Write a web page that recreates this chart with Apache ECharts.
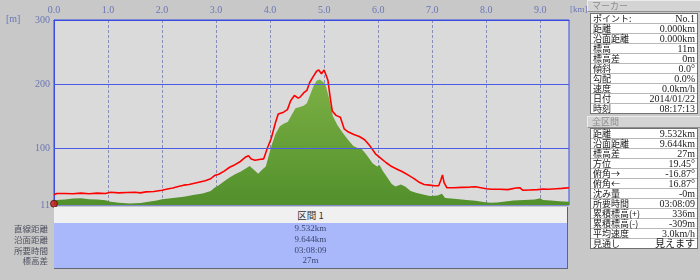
<!DOCTYPE html>
<html><head><meta charset="utf-8">
<script src="https://cdn.jsdelivr.net/npm/echarts@6/dist/echarts.min.js"></script>
<style>
html,body{margin:0;padding:0;background:#c8c8c8;}
#wrap{position:relative;width:700px;height:280px;overflow:hidden;background:#c8c8c8;}
#chart{position:absolute;left:0;top:0;width:700px;height:280px;}
.hdr{position:absolute;left:587px;width:109px;height:10px;background:#d4d4d4;border-top:1px solid #ececec;border-left:1px solid #ececec;border-right:1px solid #909090;border-bottom:1px solid #909090;color:#8c8c8c;font:9px/10px "Noto Sans CJK JP";padding-left:4px;box-sizing:content-box;}
.box{position:absolute;left:590px;width:106px;background:#fff;border:1px solid #707070;}
.row{height:9px;border-bottom:1px solid #b8b8b8;position:relative;font:9px/9px "Noto Sans CJK JP";color:#202020;}
.row:last-child{border-bottom:none;}
.row .k{position:absolute;left:2px;top:0;white-space:nowrap;}
.row .v{position:absolute;right:2px;top:0;white-space:nowrap;font-family:"Liberation Serif","Noto Sans CJK JP";font-size:10px;}
#sect{position:absolute;left:54px;top:207px;width:513px;height:16px;background:#f0f0f0;border-right:1px solid #606060;font:9.5px/16px "Noto Sans CJK JP";color:#303030;text-align:center;}
#tbl{position:absolute;left:54px;top:223px;width:513px;height:45px;background:#a8b8fa;border-right:1px solid #606878;border-bottom:1px solid #606878;}
.tv{position:absolute;left:0;width:513px;text-align:center;font:9px/11px "Liberation Serif";color:#3c4670;}
.tl{position:absolute;right:652px;white-space:nowrap;font:8.5px/11px "Noto Sans CJK JP";color:#505060;text-align:right;}
</style></head>
<body><div id="wrap"><div id="chart"></div>
<div id="sect">区間 1</div>
<div id="tbl"></div>
<div id="labels"></div>
<div id="panel"></div>
</div>
<script>
// ---- data ----
const redKm = [0,0.05,0.2,0.35,0.5,0.65,0.8,0.95,1.05,1.2,1.35,1.5,1.6,1.7,1.85,2.0,2.1,2.2,2.3,2.4,2.5,2.6,2.7,2.8,2.9,2.97,3.05,3.15,3.25,3.35,3.45,3.55,3.6,3.65,3.72,3.8,3.88,3.95,4.02,4.1,4.15,4.25,4.32,4.38,4.45,4.48,4.52,4.56,4.62,4.68,4.73,4.8,4.86,4.9,4.95,5.0,5.03,5.07,5.11,5.15,5.22,5.3,5.37,5.45,5.55,5.65,5.75,5.85,5.95,6.05,6.15,6.25,6.35,6.45,6.55,6.65,6.75,6.85,6.95,7.05,7.12,7.16,7.19,7.22,7.27,7.4,7.55,7.7,7.8,7.9,8.0,8.1,8.25,8.4,8.55,8.62,8.68,8.8,8.95,9.05,9.15,9.3,9.4,9.532];
const redElev = [27,29,29,28.5,29.5,28.5,29.5,29,31,30,30.5,31,30,31.5,32,34,36,37.5,40,42,43,45,47,49,52,57,59,64,70,74,79,86,88,83,81,82,83,100,115,140,153,156,160,174,182,184,178,180,186,190,202,212,220,222,216,222,225,206,180,158,151,148,130,125,121,118,113,103,91,84,77,71,67,63,58,53,47,43,42,41,41,50,58,46,38,38,38.5,39,39.5,38,36.5,35.5,35.5,35,37.5,38,34,34.5,35,36,35.5,36.5,37,38];
const greenKm = [0,0.05,0.2,0.35,0.5,0.65,0.8,0.95,1.05,1.2,1.4,1.6,1.75,1.9,2.0,2.2,2.4,2.6,2.75,2.9,2.97,3.05,3.15,3.25,3.35,3.45,3.55,3.62,3.7,3.78,3.85,3.92,3.98,4.03,4.1,4.18,4.25,4.33,4.4,4.47,4.55,4.62,4.68,4.75,4.8,4.86,4.92,4.97,5.02,5.06,5.1,5.16,5.25,5.35,5.45,5.54,5.62,5.7,5.78,5.9,5.98,6.03,6.08,6.16,6.25,6.32,6.42,6.5,6.6,6.7,6.85,6.96,7.1,7.18,7.24,7.35,7.5,7.64,7.8,7.95,8.07,8.2,8.35,8.5,8.7,8.9,9.0,9.05,9.2,9.35,9.532];
const greenElev = [17,19,19.5,21,21.5,20,19.5,18.5,16,14.5,13.5,14,16,18,20,22,24,27,29,33,38,42,48,54,59,63,68,72,66,60,66,71,90,105,122,134,138,141,152,162,164,166,170,185,196,205,207,204,200,188,175,150,135,123,112,103,100,98,90,76,71,73,65,55,44,40,43,40,33,30,27,25,26,28.5,22,21,20,19,17.5,15.5,14.5,15,16.5,18,19,19.5,21.5,19,18,17,16];
const xTicks = [0,1,2,3,4,5,6,7,8,9];
const yTicks = [11,100,200,300];
const gridLinesY = [100,200];
const sectionLabel = ['直線距離','沿面距離','所要時間','標高差'];
const sectionValue = ['9.532km','9.644km','03:08:09','27m'];
const markerKeys = ['ポイント:','距離','沿面距離','標高','標高差','傾斜','勾配','速度','日付','時刻'];
const markerVals = ['No.1','0.000km','0.000km','11m','0m','0.0°','0.0%','0.0km/h','2014/01/22','08:17:13'];
const totalKeys = ['距離','沿面距離','標高差','方位','俯角→','俯角←','沈み量','所要時間','累積標高(+)','累積標高(-)','平均速度','見通し'];
const totalVals = ['9.532km','9.644km','27m','19.45°','-16.87°','16.87°','-0m','03:08:09','336m','-309m','3.0km/h','見えます'];

// ---- chart ----
const chart = echarts.init(document.getElementById('chart'), null, {renderer:'canvas'});
const lblColor = '#6a76b6';
chart.setOption({
  animation:false,
  backgroundColor:'transparent',
  grid:{left:54,right:131,top:20,bottom:75,show:true,backgroundColor:'#dadada',borderColor:'#3a4ce0',borderWidth:1},
  xAxis:{type:'value',position:'top',min:0,max:9.532,interval:1,
    axisLine:{show:true,lineStyle:{color:'#3a4ce0',width:1}},
    axisTick:{show:false},
    axisLabel:{color:lblColor,fontSize:10,fontFamily:'Liberation Serif',margin:5,
      customValues:xTicks,formatter:v=>v.toFixed(1)},
    splitLine:{show:true,lineStyle:{color:'#8a8cb8',type:[3,2],width:1}}},
  yAxis:{type:'value',min:11,max:300,
    axisLine:{show:true,lineStyle:{color:'#3a4ce0'}},
    axisTick:{show:false},
    axisLabel:{customValues:yTicks,color:lblColor,fontSize:10,fontFamily:'Liberation Serif',margin:4},
    splitLine:{show:false}},
  graphic:[
    {type:'text',left:570,top:5,style:{text:'[km]',fill:lblColor,font:'9px "Liberation Serif"'}},
    {type:'text',left:6,top:14,style:{text:'[m]',fill:lblColor,font:'10px "Liberation Serif"'}}
  ],
  series:[
    {type:'line',data:greenKm.map((k,i)=>[k,greenElev[i]]),symbol:'none',lineStyle:{width:0},
      areaStyle:{origin:'start',opacity:1,color:new echarts.graphic.LinearGradient(0,0,0,1,[{offset:0,color:'#7cb044'},{offset:1,color:'#52902c'}])},z:2,
      markLine:{silent:true,symbol:'none',label:{show:false},lineStyle:{color:'#4a5ce8',type:'solid',width:1},data:gridLinesY.map(v=>({yAxis:v}))}},
    {type:'line',data:redKm.map((k,i)=>[k,redElev[i]]),symbol:'none',lineStyle:{color:'#ff0000',width:1.6},z:4},
    {type:'scatter',data:[[0,13]],symbol:'circle',symbolSize:7,itemStyle:{color:'#d01818',borderColor:'#401010',borderWidth:1},z:5}
  ]
});

// ---- html tables ----
const tbl = document.getElementById('tbl');
const labels = document.getElementById('labels');
sectionValue.forEach((v,i)=>{
  const d=document.createElement('div');d.className='tv';d.style.top=(i*10.8)+'px';d.textContent=v;tbl.appendChild(d);
  const l=document.createElement('div');l.className='tl';l.style.top=(223+i*10.8)+'px';l.textContent=sectionLabel[i];labels.appendChild(l);
});
const panel = document.getElementById('panel');
function header(text,top){const h=document.createElement('div');h.className='hdr';h.style.top=top+'px';h.textContent=text;panel.appendChild(h);}
function box(keys,vals,top){const b=document.createElement('div');b.className='box';b.style.top=top+'px';
  keys.forEach((k,i)=>{const r=document.createElement('div');r.className='row';
    const a=document.createElement('span');a.className='k';a.textContent=k;
    const c=document.createElement('span');c.className='v';c.textContent=vals[i];
    r.appendChild(a);r.appendChild(c);b.appendChild(r);});
  panel.appendChild(b);}
header('マーカー',0);
box(markerKeys,markerVals,13);
header('全区間',116);
box(totalKeys,totalVals,128);
</script></body></html>
